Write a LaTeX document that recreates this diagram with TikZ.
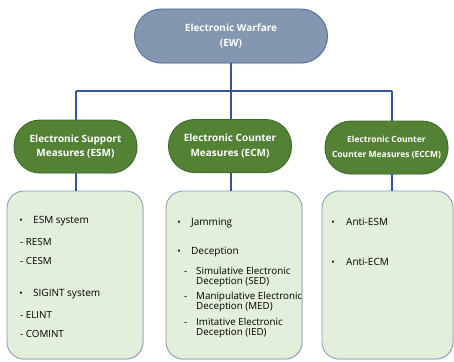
\documentclass[tikz,border=0pt]{standalone}
\usepackage{fontspec}
\setmainfont{Open Sans}
\usetikzlibrary{shadows}
\definecolor{ewfill}{HTML}{8497B0}
\definecolor{ewdraw}{HTML}{4F6E9E}
\definecolor{grfill}{HTML}{548235}
\definecolor{grdraw}{HTML}{3E6A2A}
\definecolor{bxfill}{HTML}{E2EFDA}
\definecolor{bxdraw}{HTML}{8096BC}
\definecolor{linkc}{HTML}{34569A}
\tikzset{
  soft/.style={drop shadow={opacity=0.18, shadow xshift=0.8pt, shadow yshift=-1pt}},
  topnode/.style={soft, draw=ewdraw, fill=ewfill, line width=0.9pt, rounded corners=27pt,
    minimum width=193pt, minimum height=54pt, text=white, align=center,
    font=\fontsize{10}{14.5}\selectfont\bfseries},
  grnode/.style={soft, draw=grdraw, fill=grfill, line width=0.9pt, rounded corners=26pt,
    minimum width=123pt, minimum height=53pt, text=white, align=center,
    font=\fontsize{10}{14.5}\selectfont\bfseries},
  listbox/.style={soft, draw=bxdraw, fill=bxfill, line width=0.8pt, rounded corners=17pt},
  link/.style={draw=linkc, line width=1.2pt},
  item/.style={anchor=base west, inner sep=0pt, font=\fontsize{10}{11}\selectfont},
  sub/.style={anchor=base west, inner sep=0pt, font=\fontsize{9.8}{11}\selectfont},
  dot/.style={anchor=base, inner sep=0pt, font=\fontsize{9}{11}\selectfont},
}
\begin{document}
\begin{tikzpicture}[x=1pt, y=-1pt]
\useasboundingbox (0,0) rectangle (454,361);

% detail boxes
\draw[listbox] (7,191) rectangle (143,359);
\draw[listbox] (166,191) rectangle (302,359);
\draw[listbox] (322,191) rectangle (453,359);
\coordinate (esmbox) at (76,191);
\coordinate (ecmbox) at (231,191);
\coordinate (eccmbox) at (392,191);

% hierarchy nodes
\node[topnode] (ew)   at (231,36)    {Electronic Warfare\\(EW)};
\node[grnode]  (esm)  at (75.5,146.5) {Electronic Support\\Measures (ESM)};
\node[grnode]  (ecm)  at (230,146)   {Electronic Counter\\Measures (ECM)};
\node[grnode, font=\fontsize{8.5}{14.5}\selectfont\bfseries] (eccm) at (386.5,147.5) {Electronic Counter\\Counter Measures (ECCM)};

% tree connectors
\coordinate (jl) at (76,91);
\coordinate (jc) at (231,91);
\coordinate (jr) at (392,91);
\draw[link] (ew.south -| jc) -- (jc);
\draw[link] (jl) -- (jr);
\draw[link] (jl) -- (esm.north -| jl);
\draw[link] (jc) -- (ecm.north -| jc);
\draw[link] (jr) -- (eccm.north -| jr);
\draw[link] (esm.south -| jl) -- (esmbox);
\draw[link] (ecm.south -| jc) -- (ecmbox);
\draw[link] (eccm.south -| jr) -- (eccmbox);

% ESM list
\node[dot]  (b1) at (21,223) {•};
\node[item] (t1) at (33,223) {ESM system};
\node[sub]  (t2) at (20,245) {- RESM};
\node[sub]  (t3) at (20,264) {- CESM};
\node[dot]  (b2) at (21,296) {•};
\node[item] (t4) at (33,296) {SIGINT system};
\node[sub]  (t5) at (20,318) {- ELINT};
\node[sub]  (t6) at (20,337) {- COMINT};

% ECM list
\node[dot]  (b3) at (179,225) {•};
\node[item] (u1) at (191,225) {Jamming};
\node[dot]  (b4) at (179,254) {•};
\node[item] (u2) at (191,254) {Deception};
\node[sub]  (d1) at (184,274) {-};
\node[sub]  (u3) at (196,274) {Simulative Electronic};
\node[sub]  (u3b) at (196,284.5) {Deception (SED)};
\node[sub]  (d2) at (184,299) {-};
\node[sub]  (u4) at (196,299) {Manipulative Electronic};
\node[sub]  (u4b) at (196,309.5) {Deception (MED)};
\node[sub]  (d3) at (184,325) {-};
\node[sub]  (u5) at (196,325) {Imitative Electronic};
\node[sub]  (u5b) at (196,335.5) {Deception (IED)};

% ECCM list
\node[dot]  (b5) at (333,225) {•};
\node[item] (v1) at (346,225) {Anti-ESM};
\node[dot]  (b6) at (333,265) {•};
\node[item] (v2) at (346,265) {Anti-ECM};
\end{tikzpicture}
\end{document}
